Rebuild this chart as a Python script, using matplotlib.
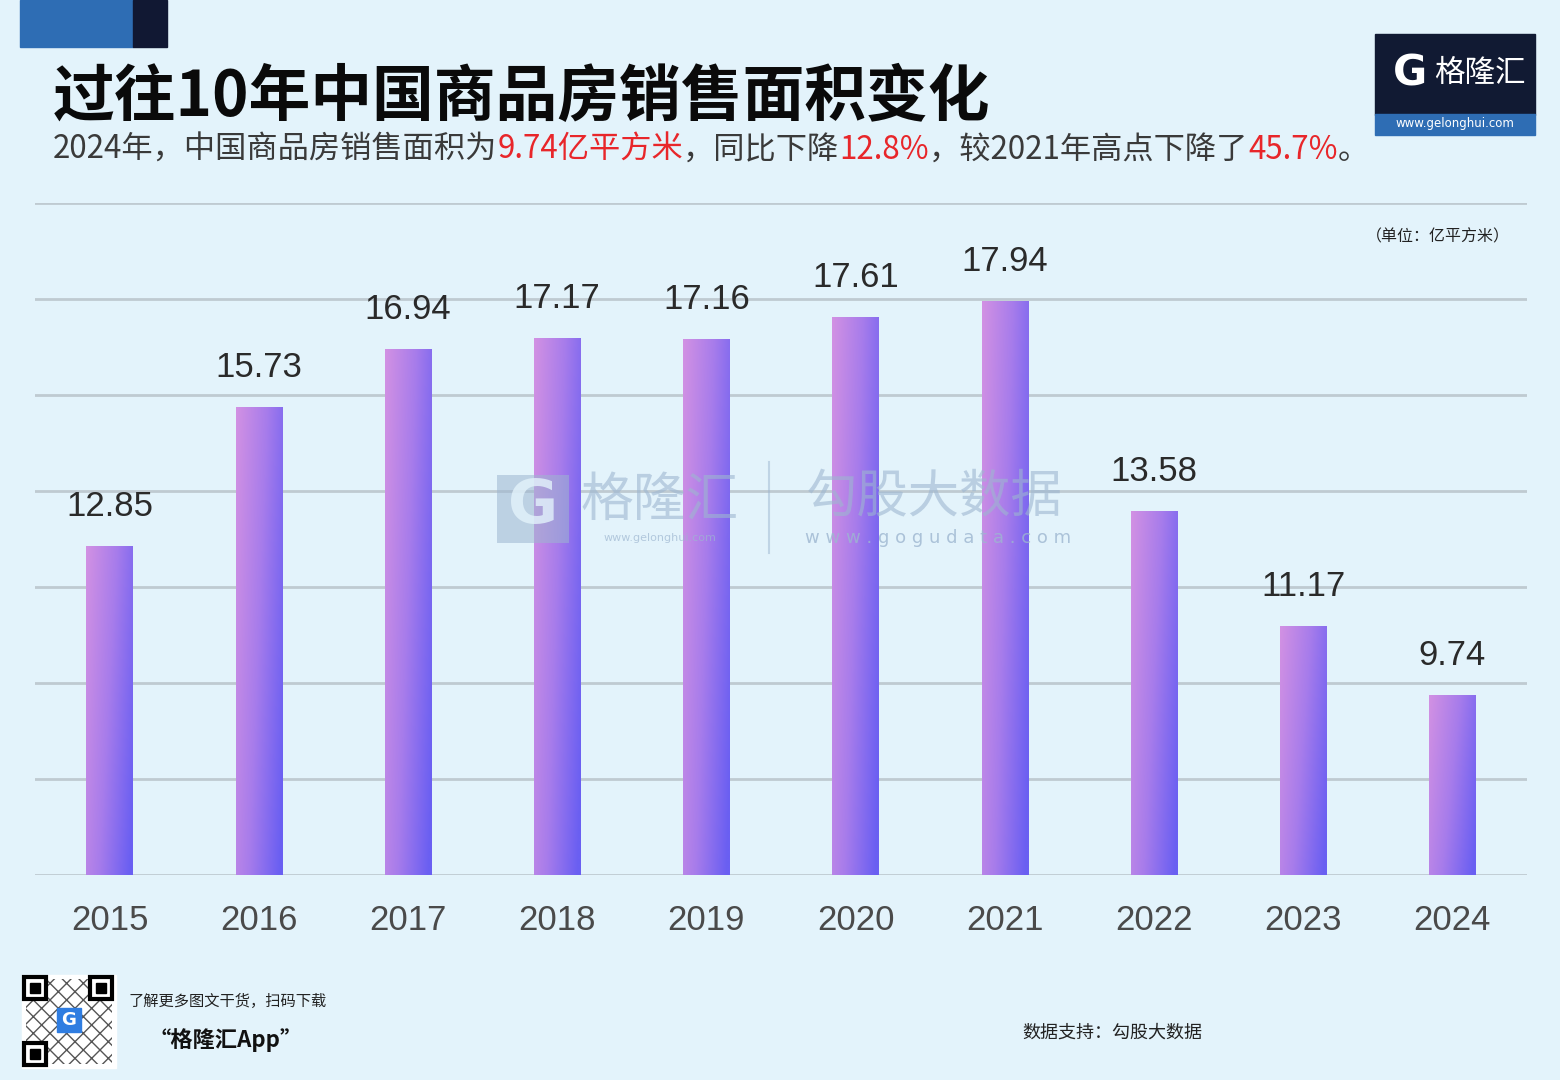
import numpy as np
import matplotlib
matplotlib.use("Agg")
import matplotlib.pyplot as plt
from matplotlib.patches import Rectangle
from matplotlib.offsetbox import TextArea, HPacker, AnchoredOffsetbox
from matplotlib.colors import LinearSegmentedColormap

plt.rcParams['font.family'] = ['Noto Sans CJK SC', 'DejaVu Sans']

years = ['2015', '2016', '2017', '2018', '2019', '2020', '2021', '2022', '2023', '2024']
area = [12.85, 15.73, 16.94, 17.17, 17.16, 17.61, 17.94, 13.58, 11.17, 9.74]

title = '过往10年中国商品房销售面积变化'
sub_parts = [
    ('2024年，中国商品房销售面积为', '#3a3a3a'),
    ('9.74亿平方米', '#e8262a'),
    ('，同比下降', '#3a3a3a'),
    ('12.8%', '#e8262a'),
    ('，较2021年高点下降了', '#3a3a3a'),
    ('45.7%', '#e8262a'),
    ('。', '#3a3a3a'),
]
unit = '（单位：亿平方米）'

BG = '#e3f3fb'
W, H = 1560, 1080
Y0, Y1 = 6, 20  # 纵轴不是从0开始

fig = plt.figure(figsize=(15.6, 10.8), dpi=100, facecolor=BG)

# 背景层，坐标就是像素
bg = fig.add_axes([0, 0, 1, 1], zorder=0)
bg.set_xlim(0, W)
bg.set_ylim(H, 0)
bg.axis('off')

# 主图
ax = fig.add_axes([35 / W, 1 - 875 / H, 1492 / W, 672 / H], zorder=1)
ax.set_facecolor('none')
ax.set_yticks(np.arange(Y0, Y1 + 1, 2))
ax.yaxis.grid(True, color='#bfcad1', linewidth=2)
ax.set_axisbelow(True)
ax.tick_params(axis='y', length=0, labelleft=False)
ax.tick_params(axis='x', length=0, pad=21, labelsize=25, labelcolor='#4a4a4a')
for s in ax.spines.values():
    s.set_visible(False)
x = np.arange(len(years))
ax.set_xticks(x)
ax.set_xticklabels(years, family='Liberation Sans')

# 渐变柱子：左上偏粉，右下偏蓝
cmap = LinearSegmentedColormap.from_list('bar', ['#d291e3', '#a77ceb', '#6a5ff2'])
tt = np.linspace(0, 1, 60)
ss = np.linspace(0, 1, 200)[:, None]
grad = np.clip(0.75 * tt[None, :] + 0.3 * ss, 0, 1)
bw = 0.31
for xi, v in zip(x, area):
    ax.imshow(grad, cmap=cmap, vmin=0, vmax=1, aspect='auto',
              extent=[xi - bw / 2, xi + bw / 2, Y0, v], origin='upper',
              zorder=2, interpolation='bilinear')
    ax.annotate(f'{v:.2f}', (xi, v), xytext=(0, 17), textcoords='offset points',
                ha='center', va='bottom', fontsize=25, color='#2a2a2a',
                family='Liberation Sans')
ax.set_xlim(-0.5, 9.5)
ax.set_ylim(Y0, Y1)

# 左上角色块
bg.add_patch(Rectangle((20, 0), 113, 47, color='#2e6db4'))
bg.add_patch(Rectangle((133, 0), 34, 47, color='#111833'))

# 标题
bg.text(53, 98, title, fontsize=44.5, fontweight='bold', color='#0a0a0a',
        ha='left', va='center')

# 副标题，多色
areas = [TextArea(t, textprops=dict(color=c, fontsize=22.5)) for t, c in sub_parts]
box = HPacker(children=areas, align='baseline', pad=0, sep=0)
anc = AnchoredOffsetbox(loc='center left', child=box, pad=0, borderpad=0,
                        frameon=False, bbox_to_anchor=(53, 150),
                        bbox_transform=bg.transData)
bg.add_artist(anc)

bg.text(1510, 237, unit, fontsize=11.5, color='#222222', ha='right', va='center')

# 右上角 logo
bg.add_patch(Rectangle((1375, 34), 160, 81, color='#111a33'))
bg.add_patch(Rectangle((1375, 114), 160, 21, color='#2e6db4'))
bg.text(1410, 73, 'G', fontsize=30, fontweight='bold', color='white',
        ha='center', va='center', family='DejaVu Sans')
bg.text(1480, 73, '格隆汇', fontsize=22, color='white', ha='center', va='center')
bg.text(1455, 124, 'www.gelonghui.com', fontsize=8.5, color='white',
        ha='center', va='center', family='DejaVu Sans')

# 底部二维码（示意）
bg.add_patch(Rectangle((22, 975), 94, 93, color='white'))
bg.add_patch(Rectangle((26, 979), 86, 85, facecolor='none', edgecolor='#555555',
                       hatch='xx', linewidth=0))
for fx, fy in [(24, 977), (90, 977), (24, 1043)]:
    bg.add_patch(Rectangle((fx, fy), 22, 22, facecolor='white', edgecolor='black', linewidth=3))
    bg.add_patch(Rectangle((fx + 6, fy + 6), 10, 10, color='black'))
bg.add_patch(Rectangle((57, 1008), 24, 24, color='#2f7de1'))
bg.text(69, 1020, 'G', fontsize=13, fontweight='bold', color='white',
        ha='center', va='center', family='DejaVu Sans')

bg.text(128, 1001, '了解更多图文干货，扫码下载', fontsize=11, style='italic',
        color='#222222', ha='left', va='center')
bg.text(148, 1040, '“格隆汇App”', fontsize=16, style='italic', fontweight='bold',
        color='#111111', ha='left', va='center')
bg.text(1022, 1033, '数据支持：勾股大数据', fontsize=13, color='#222222',
        ha='left', va='center')

# 水印，盖在柱子上
fg = fig.add_axes([0, 0, 1, 1], zorder=3)
fg.set_xlim(0, W)
fg.set_ylim(H, 0)
fg.axis('off')
wm = '#9db6d0'
fg.add_patch(Rectangle((497, 475), 72, 68, facecolor=wm, alpha=0.55, linewidth=0))
fg.text(533, 507, 'G', fontsize=44, fontweight='bold', color=BG, alpha=0.8,
        ha='center', va='center', family='DejaVu Sans')
fg.text(660, 500, '格隆汇', fontsize=38, color=wm, alpha=0.6, ha='center', va='center')
fg.text(660, 538, 'www.gelonghui.com', fontsize=8, color=wm, alpha=0.7,
        ha='center', va='center', family='DejaVu Sans')
fg.plot([769, 769], [462, 553], color=wm, alpha=0.5, linewidth=1.5)
fg.text(934, 498, '勾股大数据', fontsize=37, color=wm, alpha=0.6, ha='center', va='center')
fg.text(938, 538, 'w w w . g o g u d a t a . c o m', fontsize=13, color=wm, alpha=0.8,
        ha='center', va='center', family='DejaVu Sans')

fig.savefig('out.png', dpi=100, facecolor=BG)
